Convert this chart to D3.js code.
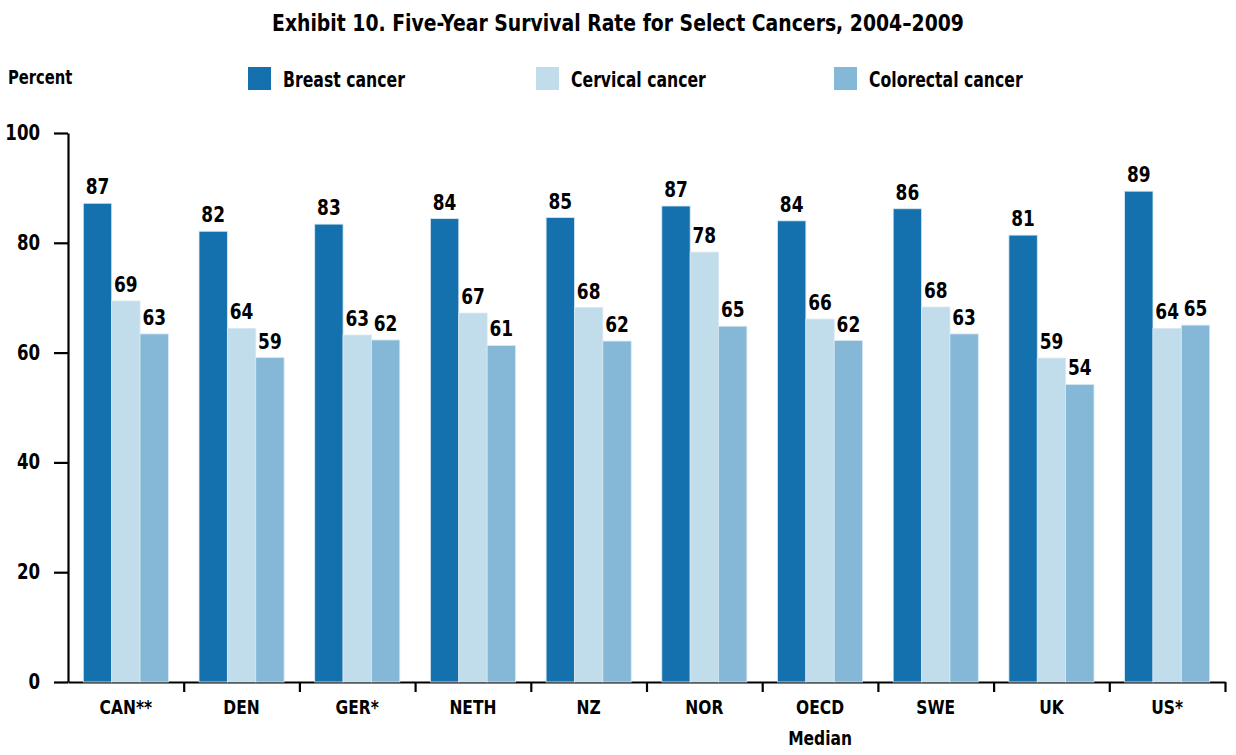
<!DOCTYPE html>
<html>
<head>
<meta charset="utf-8">
<script src="https://cdn.jsdelivr.net/npm/d3@7"></script>
<style>
  body { margin: 0; background: #fff; }
  text { font-family: "Liberation Sans Narrow", "DejaVu Sans Condensed", "Arial Narrow", sans-serif; font-stretch: condensed; font-weight: bold; fill: #000; }
</style>
</head>
<body>
<div id="container"></div>
<script>
// data
const countries = ["CAN**", "DEN", "GER*", "NETH", "NZ", "NOR", "OECD\nMedian", "SWE", "UK", "US*"];
const seriesNames = ["Breast cancer", "Cervical cancer", "Colorectal cancer"];
const breast     = [87.2, 82.1, 83.4, 84.4, 84.6, 86.7, 84.0, 86.2, 81.4, 89.4];
const cervical   = [69.4, 64.4, 63.2, 67.2, 68.2, 78.3, 66.1, 68.3, 59.0, 64.4];
const colorectal = [63.4, 59.1, 62.3, 61.3, 62.1, 64.8, 62.2, 63.4, 54.2, 65.0];
const yTicks = [0, 20, 40, 60, 80, 100];
const colors = ["#1471ad", "#c1dcea", "#84b8d6"];

// layout
const svgWidth = 1236;
const svgHeight = 755;
const margin = { top: 133, right: 11, bottom: 73, left: 68 };
const width = svgWidth - margin.left - margin.right;
const height = svgHeight - margin.top - margin.bottom;

// squeeze text horizontally, the fonts here are wider than the original's
function condense(sel, k) {
  sel.each(function() {
    const len = this.getComputedTextLength();
    d3.select(this).attr("textLength", len * k).attr("lengthAdjust", "spacingAndGlyphs");
  });
}

const svg = d3.select("#container").append("svg")
  .attr("width", svgWidth)
  .attr("height", svgHeight);

// title
svg.append("text")
  .attr("x", 618).attr("y", 31)
  .attr("text-anchor", "middle")
  .style("font-size", "23.5px")
  .text("Exhibit 10. Five-Year Survival Rate for Select Cancers, 2004–2009")
  .call(condense, 0.89);

svg.append("text")
  .attr("x", 8).attr("y", 84)
  .style("font-size", "20px")
  .text("Percent")
  .call(condense, 0.82);

// legend
const legendX = [248, 536, 834];
const legend = svg.selectAll(".legend")
  .data(seriesNames)
  .enter().append("g")
  .attr("class", "legend")
  .attr("transform", (d, i) => `translate(${legendX[i]},67)`);
legend.append("rect")
  .attr("width", 23).attr("height", 23)
  .attr("fill", (d, i) => colors[i]);
legend.append("text")
  .attr("x", 35).attr("y", 20)
  .style("font-size", "20.5px")
  .text(d => d)
  .call(condense, 0.85);

const g = svg.append("g")
  .attr("transform", `translate(${margin.left},${margin.top})`);

// scales
const x0 = d3.scaleBand().domain(countries).range([0, width]);
const x1 = d3.scaleBand().domain(seriesNames).range([0, x0.bandwidth()]).paddingOuter(0.54);
const y = d3.scaleLinear().domain([0, 100]).range([height, 0]);

const rows = countries.map((c, i) => ({
  country: c,
  values: [breast[i], cervical[i], colorectal[i]]
}));

// x axis line + boundary ticks
const xTickScale = d3.scaleLinear().domain([0, countries.length]).range([0, width]);
g.append("g")
  .attr("class", "x-axis")
  .attr("transform", `translate(0,${height})`)
  .call(d3.axisBottom(xTickScale)
    .tickValues(d3.range(1, countries.length + 1))
    .tickFormat("")
    .tickSize(10)
    .tickSizeOuter(0))
  .call(a => a.selectAll("line, path").attr("stroke", "#000").attr("stroke-width", 2.2));

// bars
const groups = g.selectAll(".group")
  .data(rows)
  .enter().append("g")
  .attr("class", "group")
  .attr("transform", d => `translate(${x0(d.country)},0)`);

groups.selectAll("rect")
  .data(d => d.values.map((v, i) => ({ key: seriesNames[i], v: v, i: i })))
  .enter().append("rect")
  .attr("x", d => x1(d.key))
  .attr("y", d => y(d.v))
  .attr("width", x1.bandwidth())
  .attr("height", d => height - y(d.v))
  .attr("fill", d => colors[d.i])
  .attr("stroke", "#d8e8f2")
  .attr("stroke-width", 0.8);

groups.selectAll(".val")
  .data(d => d.values.map((v, i) => ({ key: seriesNames[i], v: v })))
  .enter().append("text")
  .attr("class", "val")
  .attr("x", d => x1(d.key) + x1.bandwidth() / 2)
  .attr("y", d => y(d.v) - 9)
  .attr("text-anchor", "middle")
  .style("font-size", "20.5px")
  .text(d => Math.round(d.v))
  .call(condense, 0.92);

// y axis
g.append("g")
  .attr("class", "y-axis")
  .call(d3.axisLeft(y).tickValues(yTicks).tickSize(14).tickSizeOuter(0).tickPadding(14))
  .call(a => a.select(".domain").attr("stroke", "#000").attr("stroke-width", 2.2))
  .call(a => a.selectAll(".tick line").attr("stroke", "#000").attr("stroke-width", 2.2))
  .call(a => a.selectAll(".tick text")
    .style("font-size", "20.5px")
    .style("font-family", null)
    .attr("fill", "#000")
    .call(condense, 0.9));

// category labels
const cat = g.append("g").selectAll(".cat")
  .data(countries)
  .enter().append("text")
  .attr("class", "cat")
  .attr("x", d => x0(d) + x0.bandwidth() / 2)
  .attr("y", height + 32)
  .attr("text-anchor", "middle")
  .style("font-size", "20px");
cat.selectAll("tspan")
  .data(d => d.split("\n"))
  .enter().append("tspan")
  .attr("x", function() { return d3.select(this.parentNode).attr("x"); })
  .attr("dy", (d, i) => i === 0 ? 0 : 31)
  .text(d => d)
  .call(condense, 0.86);
</script>
</body>
</html>
